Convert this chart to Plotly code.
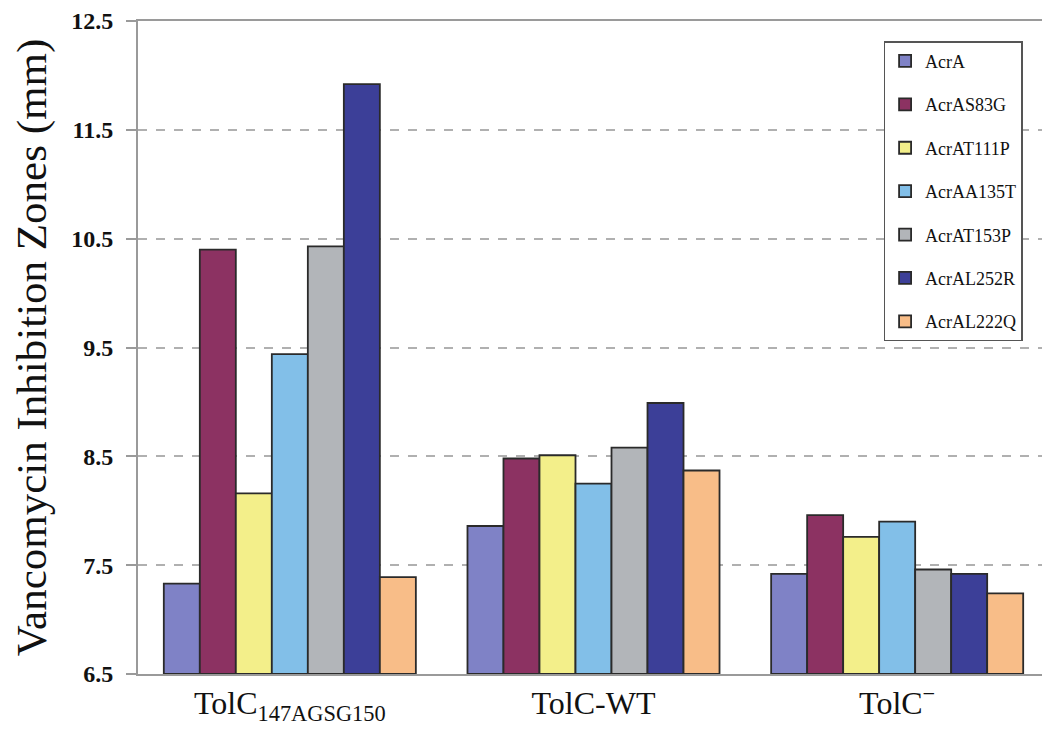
import plotly.graph_objects as go

categories = ["TolC<sub>147AGSG150</sub>", "TolC-WT", "TolC<sup>−</sup>"]
series_names = ["AcrA", "AcrAS83G", "AcrAT111P", "AcrAA135T", "AcrAT153P", "AcrAL252R", "AcrAL222Q"]
AcrA = [7.33, 7.86, 7.42]
AcrAS83G = [10.40, 8.48, 7.96]
AcrAT111P = [8.16, 8.51, 7.76]
AcrAA135T = [9.44, 8.25, 7.90]
AcrAT153P = [10.43, 8.58, 7.46]
AcrAL252R = [11.92, 8.99, 7.42]
AcrAL222Q = [7.39, 8.37, 7.24]
series_values = [AcrA, AcrAS83G, AcrAT111P, AcrAA135T, AcrAT153P, AcrAL252R, AcrAL222Q]
colors = ["#7f82c6", "#8c3262", "#f3ef8a", "#82bfe8", "#b2b5b9", "#3c3f98", "#f8bd88"]
y_ticks = [6.5, 7.5, 8.5, 9.5, 10.5, 11.5, 12.5]
y_base = 6.5

fig = go.Figure()
for i, (name, vals) in enumerate(zip(series_names, series_values)):
    fig.add_trace(go.Bar(
        x=categories, y=[v - y_base for v in vals], base=y_base,
        name=name, legendgroup=name,
        marker=dict(color=colors[i], line=dict(color="#2a2a2a", width=1.8)),
    ))

fig.update_layout(
    width=1050, height=736,
    margin=dict(l=130, r=9, t=13, b=70),
    barmode="group", bargap=0.17, bargroupgap=0,
    plot_bgcolor="white", paper_bgcolor="white",
    font=dict(family="Liberation Serif, Times New Roman, serif", color="#111"),
    legend=dict(
        x=0.971, y=0.969, xanchor="right", yanchor="top",
        bordercolor="#555", borderwidth=1.5, bgcolor="white",
        font=dict(size=18, family="Liberation Serif, serif"),
        traceorder="grouped", tracegroupgap=17,
    ),
    showlegend=True,
)
fig.update_yaxes(
    range=[6.5, 12.5], tickvals=y_ticks, ticktext=[str(t) for t in y_ticks],
    tickfont=dict(size=24, family="Liberation Serif, serif", weight="bold"),
    showgrid=True, gridcolor="#b0b0b0", gridwidth=2, griddash="dash",
    showline=True, linecolor="#9a9a9a", linewidth=2, mirror=True,
    ticks="outside", ticklen=10, tickcolor="#9a9a9a", tickwidth=2,
    ticklabelstandoff=8, ticklabeloverflow="allow",
    title=dict(text="Vancomycin Inhibition Zones (mm)", font=dict(size=43, family="Liberation Serif, serif"), standoff=16),
    zeroline=False, automargin=False,
)
fig.update_xaxes(
    tickfont=dict(size=32, family="Liberation Serif, serif"),
    showline=True, linecolor="#9a9a9a", linewidth=2, mirror=True,
    ticks="", showgrid=False, automargin=False,
)
fig.write_html("out.html")
